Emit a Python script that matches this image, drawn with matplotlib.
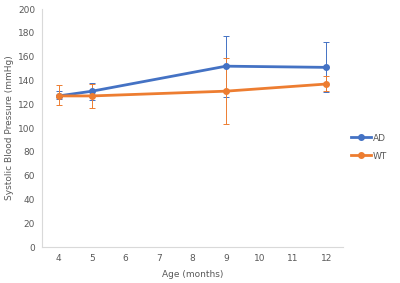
import matplotlib.pyplot as plt
from matplotlib.lines import Line2D
import numpy as np

ages = [4, 5, 9, 12]
ad_mean = [127, 131, 152, 151]
ad_lo = [124, 123.5, 126, 130]
ad_hi = [131, 137.5, 177, 172]
wt_mean = [127, 127, 131, 137]
wt_lo = [119, 117, 103, 131]
wt_hi = [136, 137, 158.5, 144]

blue = '#4472C4'
orange = '#ED7D31'
gray = '#595959'

fig = plt.figure(figsize=(4, 2.83), dpi=100)
ax = fig.add_axes([0.105, 0.127, 0.7525, 0.841])

def err(mean, lo, hi):
    m = np.array(mean)
    return [m - np.array(lo), np.array(hi) - m]

ax.errorbar(ages, ad_mean, yerr=err(ad_mean, ad_lo, ad_hi), color=blue, lw=2,
            marker='o', ms=4, elinewidth=0.7, capsize=2.5, capthick=0.7,
            ecolor=blue, zorder=3)
ax.errorbar(ages, wt_mean, yerr=err(wt_mean, wt_lo, wt_hi), color=orange, lw=2,
            marker='o', ms=4, elinewidth=0.7, capsize=2.5, capthick=0.7,
            ecolor=orange, zorder=3)

ax.set_xlim(3.5, 12.5)
ax.set_ylim(0, 200)
ax.set_xticks(range(4, 13))
ax.set_yticks(range(0, 201, 20))
ax.tick_params(length=0, labelsize=6.5, colors=gray, pad=5)
for s in ['top', 'right']:
    ax.spines[s].set_visible(False)
for s in ['left', 'bottom']:
    ax.spines[s].set_color('#D9D9D9')
    ax.spines[s].set_linewidth(0.8)

ax.set_xlabel('Age (months)', fontsize=6.5, color=gray, labelpad=5)
ax.set_ylabel('Systolic Blood Pressure (mmHg)', fontsize=6.5, color=gray, labelpad=3)

handles = [Line2D([], [], color=blue, lw=2, marker='o', ms=4),
           Line2D([], [], color=orange, lw=2, marker='o', ms=4)]
leg = ax.legend(handles, ['AD', 'WT'], loc='center left', bbox_to_anchor=(1.0, 0.42),
                frameon=False, fontsize=6.5, handlelength=2.2, handletextpad=0.2,
                labelspacing=1.0)
for t in leg.get_texts():
    t.set_color(gray)

fig.savefig('out.png', dpi=100)
